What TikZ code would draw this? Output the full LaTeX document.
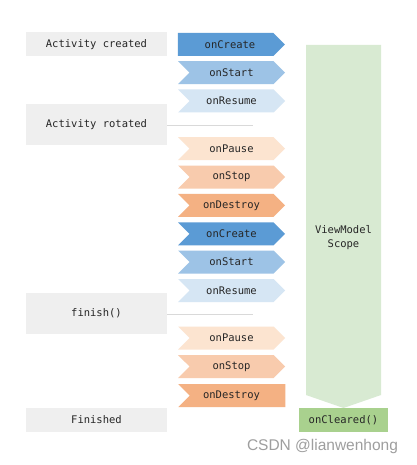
\documentclass[tikz,border=0pt]{standalone}
\usepackage{fontspec}
\setmonofont{DejaVu Sans Mono}
\setsansfont{Liberation Sans}
\usetikzlibrary{shapes.symbols}
\definecolor{boxgray}{HTML}{EFEFEF}
\definecolor{blueA}{HTML}{5B9BD5}
\definecolor{blueB}{HTML}{9DC3E6}
\definecolor{blueC}{HTML}{D6E6F4}
\definecolor{orangeA}{HTML}{FCE4D0}
\definecolor{orangeB}{HTML}{F8CBAD}
\definecolor{orangeC}{HTML}{F4B183}
\definecolor{scopegreen}{HTML}{D8EAD2}
\definecolor{cleargreen}{HTML}{A9D18E}
\definecolor{linegray}{HTML}{D9D9D9}
\definecolor{wmgray}{HTML}{9E9E9E}
\begin{document}
\begin{tikzpicture}[x=1pt,y=-1pt,
  lbl/.style={font=\ttfamily\fontsize{10.5}{14}\selectfont, text=black!85},
  greybox/.style={lbl, fill=boxgray, minimum width=141pt, inner sep=0pt},
  chev/.style={lbl, shape=signal, signal from=west, signal to=east,
    signal pointer angle=90, minimum width=107pt, minimum height=23pt,
    inner sep=0pt, fill=#1},
  conn/.style={draw=linegray, line width=0.8pt}]
\useasboundingbox[fill=white] (0,0) rectangle (416,465);

% left grey boxes
\node[greybox, minimum height=24pt] (created) at (96.5,44.5) {Activity created};
\node[greybox, minimum height=41pt] (rotated) at (96.5,124.7) {Activity rotated};
\node[greybox, minimum height=41pt] (finish) at (96.5,313.7) {finish()};
\node[greybox, minimum height=24pt] (finished) at (96.5,420) {Finished};

% connector lines
\coordinate (r1) at (253,125);
\coordinate (r2) at (253,314.3);
\draw[conn] (rotated.east |- r1) -- (r1);
\draw[conn] (finish.east |- r2) -- (r2);

% chevrons
\node[chev=blueA, signal from=nowhere] (c1) at (225.5,44.5) {\hspace*{9pt}onCreate};
\node[chev=blueB] (s1) at (231.5,72.7) {onStart};
\node[chev=blueC] (re1) at (231.5,101) {onResume};
\node[chev=orangeA] (p1) at (231.5,148.7) {onPause};
\node[chev=orangeB] (st1) at (231.5,177) {onStop};
\node[chev=orangeC] (d1) at (231.5,205.3) {onDestroy};
\node[chev=blueA] (c2) at (231.5,233.8) {onCreate};
\node[chev=blueB] (s2) at (231.5,262) {onStart};
\node[chev=blueC] (re2) at (231.5,290.5) {onResume};
\node[chev=orangeA] (p2) at (231.5,338) {onPause};
\node[chev=orangeB] (st2) at (231.5,366.5) {onStop};
\node[chev=orangeC, signal to=nowhere] (d2) at (237.5,395.5) {onDestroy\hspace*{12pt}};

% ViewModel scope arrow
\fill[scopegreen] (306,45) -- (381,45) -- (381,395) -- (343.5,408) -- (306,395) -- cycle;
\node[lbl, align=center] (scope) at (343.5,237.5) {ViewModel\\Scope};
\node[lbl, fill=cleargreen, minimum width=89pt, minimum height=24pt, inner sep=0pt] (cleared) at (343.5,420) {onCleared()};

% watermark
\node[font=\sffamily\fontsize{15.5}{18}\selectfont, text=wmgray] (wm) at (322.5,446) {CSDN @lianwenhong};
\end{tikzpicture}
\end{document}
